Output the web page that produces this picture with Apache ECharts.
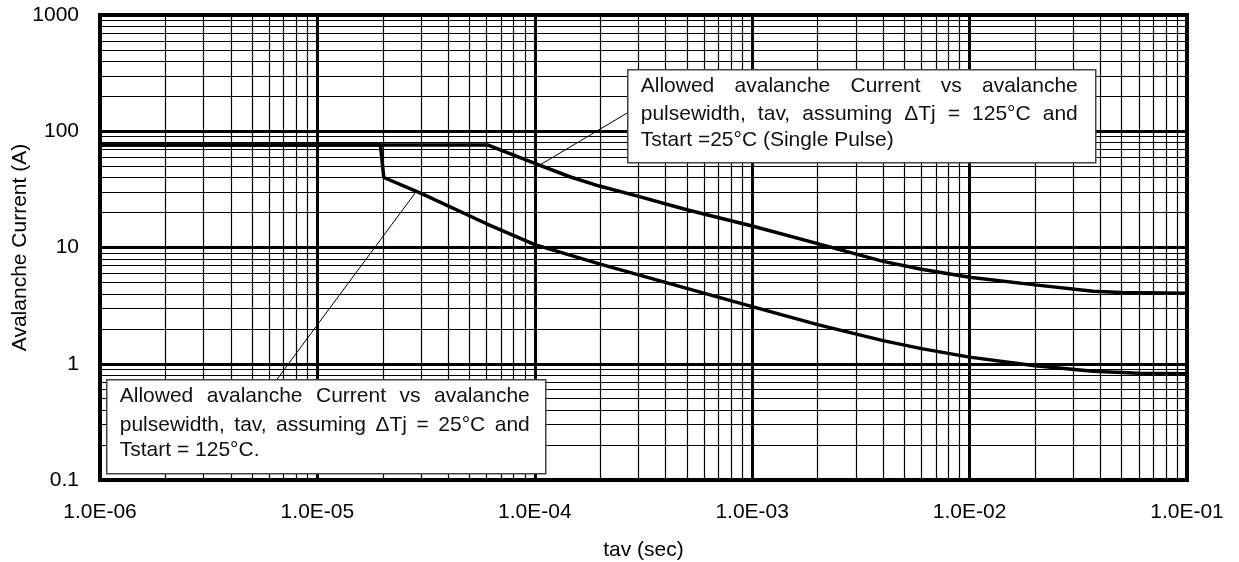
<!DOCTYPE html>
<html><head><meta charset="utf-8">
<script src="https://cdn.jsdelivr.net/npm/echarts@6/dist/echarts.min.js"></script>
<style>html,body{margin:0;padding:0;background:#fff}#c{width:1239px;height:562px}</style>
</head><body><div id="c"></div>
<script>
// ---- data ----
const xTicks = [1e-6, 1e-5, 1e-4, 1e-3, 1e-2, 1e-1];
const xTickLabels = ['1.0E-06', '1.0E-05', '1.0E-04', '1.0E-03', '1.0E-02', '1.0E-01'];
const yTicks = [0.1, 1, 10, 100, 1000];
const yTickLabels = ['0.1', '1', '10', '100', '1000'];

// Tstart = 25°C, ΔTj = 125°C
const tavUpper = [1e-6, 6.1e-5, 1e-4, 1.46e-4, 2e-4, 3e-4, 5e-4, 1e-3, 2e-3, 4e-3, 6e-3, 1e-2, 2e-2, 3.7e-2, 5e-2, 1e-1];
const iUpper   = [76,   76,     53,   40.4,    33.6, 27.5, 21.1, 15.3, 10.8, 7.6,  6.5,  5.55, 4.77, 4.2,    4.1,  4.04];
// Tstart = 125°C, ΔTj = 25°C
const tavLower = [1e-6, 1.95e-5, 2.02e-5, 3e-5, 6e-5, 1e-4, 2e-4, 5e-4, 1e-3, 2e-3, 4e-3, 6e-3, 1e-2, 2e-2, 3.7e-2, 6e-2, 1e-1];
const iLower   = [76,   76,      40,      29.2, 16,   10.6, 7.2,  4.45, 3.1,  2.17, 1.58, 1.35, 1.14, 0.96, 0.86,   0.83, 0.82];

// annotation leader lines [tav, current]
const leaderUpper = [[1.05e-4, 51], [2.7e-4, 146]];
const leaderLower = [[2.83e-5, 29.8], [6.5e-6, 0.73]];

const noteUpper = ['Allowed avalanche Current vs avalanche',
                   'pulsewidth, tav, assuming \u0394Tj = 125\u00B0C and',
                   'Tstart =25\u00B0C (Single Pulse)'];
const noteLower = ['Allowed avalanche Current vs avalanche',
                   'pulsewidth, tav, assuming \u0394Tj = 25\u00B0C and',
                   'Tstart = 125\u00B0C.'];

// ---- helpers ----
const FONT = '"Liberation Sans", Arial, sans-serif';
function lookup(ticks, labels, v) {
  const lv = Math.log10(v);
  for (let i = 0; i < ticks.length; i++) if (Math.abs(Math.log10(ticks[i]) - lv) < 1e-6) return labels[i];
  return '';
}
const zip = (a, b) => a.map((v, i) => [v, b[i]]);
const minorX = [], minorY = [];
for (let e = -6; e <= -2; e++) for (let k = 2; k <= 9; k++) minorX.push({ xAxis: k * Math.pow(10, e) });
for (let e = -1; e <= 2; e++) for (let k = 2; k <= 9; k++) minorY.push({ yAxis: k * Math.pow(10, e) });

const mctx = document.createElement('canvas').getContext('2d');
const FS = 21;
mctx.font = FS + 'px ' + FONT;
function noteGraphic(lines, left, top, width, height, padL, padR, lineYs) {
  const children = [{
    type: 'rect', z: 100, shape: { x: 0, y: 0, width: width, height: height },
    style: { fill: '#fff', stroke: '#444', lineWidth: 1.5 }
  }];
  const x0 = padL, x1 = width - padR;
  lines.forEach((ln, li) => {
    const words = ln.split(' ');
    const ws = words.map(w => mctx.measureText(w).width);
    const tot = ws.reduce((a, b) => a + b, 0);
    const last = li === lines.length - 1;
    const gap = last ? mctx.measureText(' ').width : (x1 - x0 - tot) / (words.length - 1);
    let x = x0;
    words.forEach((w, wi) => {
      children.push({
        type: 'text', z: 101, x: x, y: lineYs[li],
        style: { text: w, font: FS + 'px ' + FONT, fill: '#111',
                 textVerticalAlign: 'middle', verticalAlign: 'middle' }
      });
      x += ws[wi] + gap;
    });
  });
  return { type: 'group', left: left, top: top, z: 100, children: children };
}

const chart = echarts.init(document.getElementById('c'), null, { renderer: 'canvas' });
const axisText = { color: '#000', fontSize: FS, fontFamily: FONT };
chart.setOption({
  animation: false,
  backgroundColor: '#fff',
  grid: { left: 100, right: 52, top: 15, bottom: 82, show: true, borderColor: '#000', borderWidth: 4,
          backgroundColor: 'transparent', containLabel: false, outerBoundsMode: 'none' },
  xAxis: {
    type: 'log', logBase: 10, min: 1e-6, max: 1e-1,
    name: 'tav (sec)', nameLocation: 'middle', nameGap: 60, nameMoveOverlap: false,
    nameTextStyle: axisText,
    axisLine: { show: false }, axisTick: { show: false },
    axisLabel: Object.assign({ margin: 22, formatter: v => lookup(xTicks, xTickLabels, v) }, axisText),
    splitLine: { show: true, lineStyle: { color: '#000', width: 3 } }
  },
  yAxis: {
    type: 'log', logBase: 10, min: 0.1, max: 1000,
    name: 'Avalanche Current (A)', nameLocation: 'middle', nameGap: 69, nameMoveOverlap: false,
    nameTextStyle: axisText,
    axisLine: { show: false }, axisTick: { show: false },
    axisLabel: Object.assign({ margin: 21, formatter: v => lookup(yTicks, yTickLabels, v) }, axisText),
    splitLine: { show: true, lineStyle: { color: '#000', width: 3 } }
  },
  series: [
    {
      type: 'line', name: 'grid', data: [[1e-6, 76]], symbol: 'none', silent: true, z: 1,
      lineStyle: { opacity: 0 },
      markLine: {
        silent: true, symbol: ['none', 'none'], label: { show: false }, animation: false,
        precision: 12,
        lineStyle: { color: '#000', width: 1.2, type: 'solid' },
        emphasis: { disabled: true },
        data: minorX.concat(minorY)
      }
    },
    {
      type: 'line', name: 'Tstart 25C', data: zip(tavUpper, iUpper), symbol: 'none', z: 5,
      lineStyle: { color: '#000', width: 3.5 }
    },
    {
      type: 'line', name: 'Tstart 125C', data: zip(tavLower, iLower), symbol: 'none', z: 5,
      lineStyle: { color: '#000', width: 3.5 },
      markLine: {
        silent: true, symbol: ['none', 'none'], label: { show: false }, animation: false,
        precision: 12,
        lineStyle: { color: '#000', width: 1, type: 'solid' },
        data: [
          [{ coord: leaderUpper[0] }, { coord: leaderUpper[1] }],
          [{ coord: leaderLower[0] }, { coord: leaderLower[1] }]
        ]
      }
    }
  ],
  graphic: [
    noteGraphic(noteUpper, 627, 69, 468, 93, 13, 18, [16, 44, 70]),
    noteGraphic(noteLower, 106, 379, 439, 94, 13, 16, [16, 45, 70])
  ]
});
</script>
</body></html>
